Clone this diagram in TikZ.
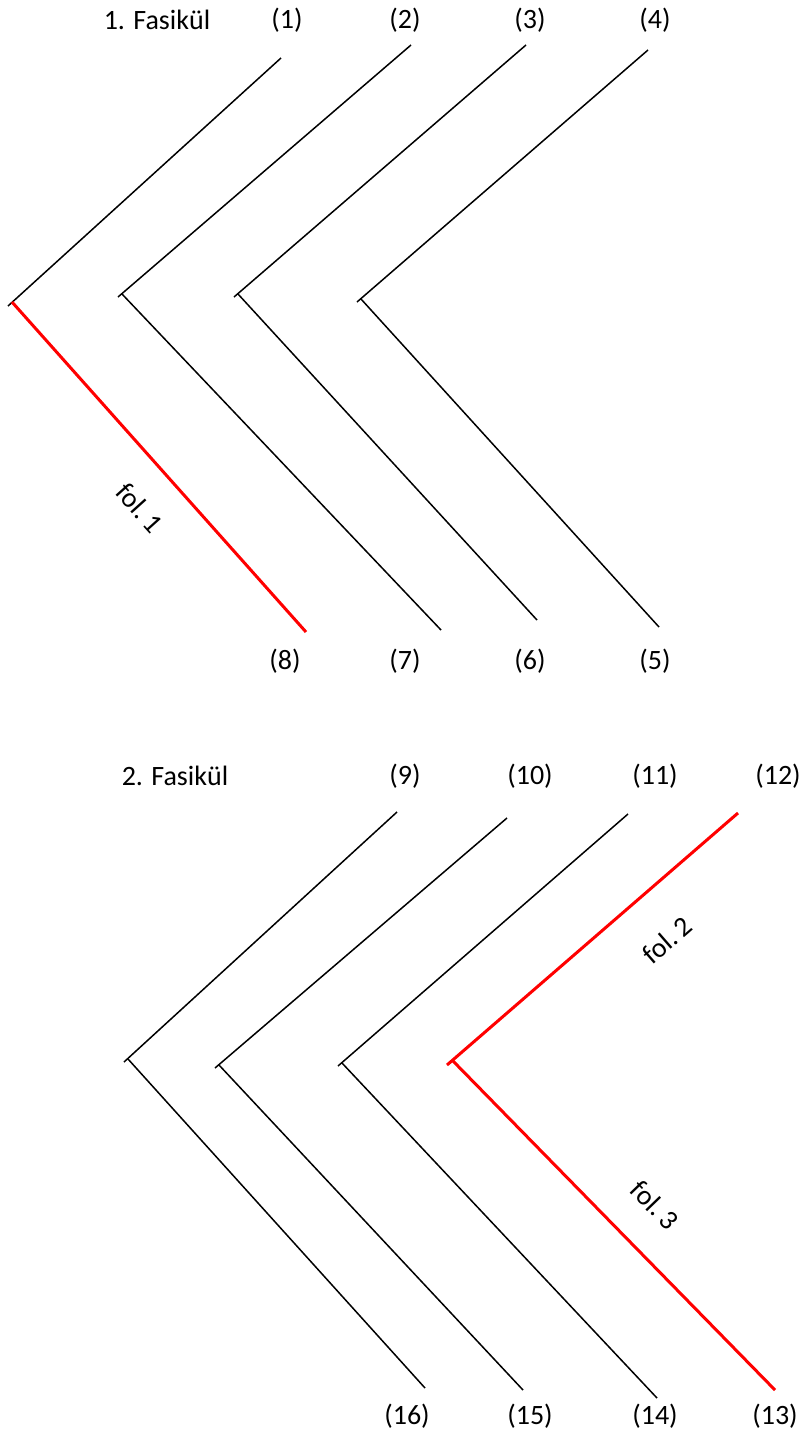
\documentclass[tikz,border=0pt]{standalone}
\usepackage{fontspec}
\setmainfont{Carlito}
\begin{document}
\begin{tikzpicture}[x=1pt,y=-1pt,
  lbl/.style={font=\fontsize{28}{32}\selectfont, inner sep=0pt},
  blackline/.style={draw=black, line width=1.5pt},
  redline/.style={draw=red, line width=3pt}]
\useasboundingbox (0,0) rectangle (805,1436);

% ---- first fascicle ----
\node[lbl] (f1) at (157,20) {1. Fasikül};
\node[lbl] (n1) at (287,20) {(1)};
\node[lbl] (n2) at (405,20) {(2)};
\node[lbl] (n3) at (530,20) {(3)};
\node[lbl] (n4) at (655,20) {(4)};
\node[lbl] (n8) at (285,661) {(8)};
\node[lbl] (n7) at (405,661) {(7)};
\node[lbl] (n6) at (530,661) {(6)};
\node[lbl] (n5) at (655,661) {(5)};

% bifolium A (leaf 1 marked)
\coordinate (a1) at (281,58);  \coordinate (av) at (8,306);
\coordinate (a2) at (12,302);  \coordinate (a8) at (306,632);
% bifolium B
\coordinate (b1) at (411,45);  \coordinate (bv) at (118,297);
\coordinate (b2) at (122,294); \coordinate (b7) at (441,630);
% bifolium C
\coordinate (c1) at (526,45);  \coordinate (cv) at (234,297);
\coordinate (c2) at (238,294); \coordinate (c6) at (537,620);
% bifolium D
\coordinate (d1) at (648,50);  \coordinate (dv) at (357,302);
\coordinate (d2) at (361,299); \coordinate (d5) at (659,627);

\draw[blackline] (a1) -- (av);
\draw[redline]   (a2) -- (a8);
\draw[blackline] (b1) -- (bv);  \draw[blackline] (b2) -- (b7);
\draw[blackline] (c1) -- (cv);  \draw[blackline] (c2) -- (c6);
\draw[blackline] (d1) -- (dv);  \draw[blackline] (d2) -- (d5);

\node[lbl, rotate=-48] (fol1) at (140,508) {fol.\,1};

% ---- second fascicle ----
\node[lbl] (f2) at (175,776) {2. Fasikül};
\node[lbl] (n9)  at (405,776) {(9)};
\node[lbl] (n10) at (530,776) {(10)};
\node[lbl] (n11) at (655,776) {(11)};
\node[lbl] (n12) at (778,776) {(12)};
\node[lbl] (n16) at (407,1416) {(16)};
\node[lbl] (n15) at (530,1416) {(15)};
\node[lbl] (n14) at (655,1416) {(14)};
\node[lbl] (n13) at (775,1416) {(13)};

% bifolium E
\coordinate (e1) at (397,812);  \coordinate (ev) at (124,1062);
\coordinate (e2) at (128,1059); \coordinate (e16) at (425,1388);
% bifolium F
\coordinate (g1) at (507,818);  \coordinate (gv) at (215,1068);
\coordinate (g2) at (219,1065); \coordinate (g15) at (523,1390);
% bifolium G
\coordinate (h1) at (628,814);  \coordinate (hv) at (338,1066);
\coordinate (h2) at (342,1063); \coordinate (h14) at (657,1398);
% bifolium H (leaves 2 and 3 marked)
\coordinate (k1) at (738,813);  \coordinate (kv) at (447,1065);
\coordinate (k2) at (453,1061); \coordinate (k13) at (775,1390);

\draw[blackline] (e1) -- (ev);  \draw[blackline] (e2) -- (e16);
\draw[blackline] (g1) -- (gv);  \draw[blackline] (g2) -- (g15);
\draw[blackline] (h1) -- (hv);  \draw[blackline] (h2) -- (h14);
\draw[redline]   (k1) -- (kv);  \draw[redline]   (k2) -- (k13);

\node[lbl, rotate=41]  (fol2) at (667,940)  {fol.\,2};
\node[lbl, rotate=-46] (fol3) at (655,1205) {fol.\,3};
\end{tikzpicture}
\end{document}
